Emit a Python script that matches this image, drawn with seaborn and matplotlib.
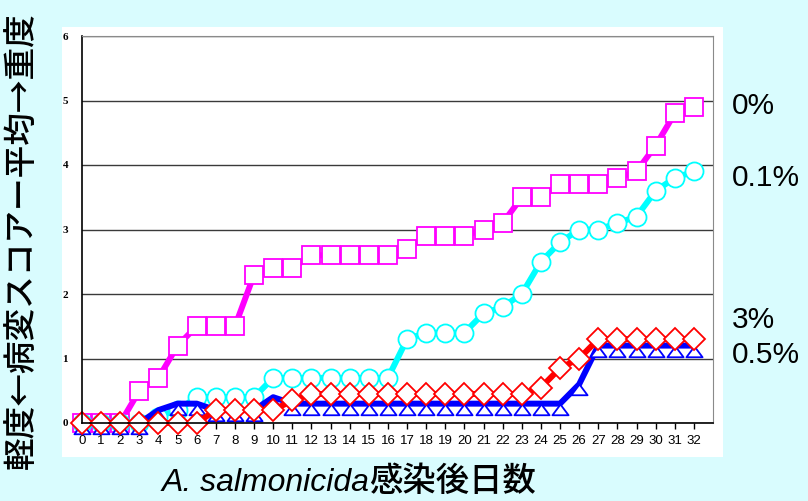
import numpy as np
import pandas as pd
import matplotlib
matplotlib.use("Agg")
import matplotlib.pyplot as plt
import seaborn as sns
from matplotlib.patches import Rectangle

BG_COLOR = "#d9fcfe"

days = list(range(33))
score_0 = [0, 0, 0, 0.5, 0.7, 1.2, 1.5, 1.5, 1.5, 2.3, 2.4, 2.4, 2.6, 2.6, 2.6, 2.6, 2.6,
           2.7, 2.9, 2.9, 2.9, 3.0, 3.1, 3.5, 3.5, 3.7, 3.7, 3.7, 3.8, 3.9, 4.3, 4.8, 4.9]
score_01 = [0, 0, 0, 0, 0.1, 0.2, 0.4, 0.4, 0.4, 0.4, 0.7, 0.7, 0.7, 0.7, 0.7, 0.7, 0.7,
            1.3, 1.4, 1.4, 1.4, 1.7, 1.8, 2.0, 2.5, 2.8, 3.0, 3.0, 3.1, 3.2, 3.6, 3.8, 3.9]
score_05 = [0, 0, 0, 0, 0.2, 0.3, 0.3, 0.2, 0.2, 0.2, 0.4] + [0.3] * 15 + [0.6] + [1.2] * 6
score_3 = [0] * 7 + [0.2, 0.2, 0.2, 0.2, 0.35] + [0.45] * 12 + [0.55, 0.85, 1.0] + [1.3] * 6

labels = ["0%", "0.1%", "0.5%", "3%"]
label_y = [4.92, 3.8, 1.05, 1.6]   # where the right-hand labels sit (data units)
colors = ["#ff00ff", "#00ffff", "#0000ff", "#ff0000"]
# triangle hangs from its apex, like the original spreadsheet chart
tri = [(0, 0), (-0.75, -1), (0.75, -1), (0, 0)]
markers = ["s", "o", tri, "D"]
msizes = [13, 13, 15.5, 11]

df = pd.DataFrame({
    "day": days * 4,
    "score": score_0 + score_01 + score_05 + score_3,
    "group": [g for g in labels for _ in days],
})

sns.set_style("white")
plt.rcParams["font.family"] = ["Liberation Sans", "DejaVu Sans"]
plt.rcParams["text.color"] = "black"
plt.rcParams["xtick.color"] = "black"
plt.rcParams["ytick.color"] = "black"

fig = plt.figure(figsize=(8.08, 5.01), dpi=100, facecolor=BG_COLOR)
fig.patches.append(Rectangle((62 / 808, 44 / 501), 661 / 808, 430 / 501,
                             transform=fig.transFigure, facecolor="white",
                             edgecolor="none", zorder=-10))
ax = fig.add_axes([82 / 808, 78 / 501, 631 / 808, 387 / 501])
ax.set_zorder(1)
ax.set_facecolor("white")

for grp, col, mk, ms in zip(labels, colors, markers, msizes):
    sub = df[df["group"] == grp]
    sns.lineplot(data=sub, x="day", y="score", ax=ax, color=col, lw=4.3,
                 marker=mk, markersize=ms, markerfacecolor="white",
                 markeredgecolor=col, markeredgewidth=1.3, clip_on=False,
                 legend=False)

ax.set_xlim(0, 33)
ax.set_ylim(0, 6)
ax.set_xticks(days)
ax.set_yticks(range(7))
ax.grid(axis="y", color="#3a3a3a", lw=1)
ax.grid(axis="x", visible=False)
ax.set_axisbelow(True)
ax.tick_params(axis="x", direction="out", length=4, width=1, color="black",
               labelsize=9.5, pad=5, bottom=True, labelcolor="black")
ax.tick_params(axis="y", length=0, pad=10, labelsize=8, labelcolor="black")
for t in ax.get_yticklabels():
    t.set_fontfamily("Liberation Serif")
    t.set_fontweight("bold")
for side in ["left", "bottom"]:
    ax.spines[side].set_color("black")
    ax.spines[side].set_linewidth(1.2)
ax.spines["right"].set_color("#8a8a8a")
ax.spines["top"].set_color("#8a8a8a")
ax.set_xlabel("")
ax.set_ylabel("")

for lab, yv in zip(labels, label_y):
    ax.text(1.03, yv / 6, lab, transform=ax.transAxes, fontsize=21.5,
            ha="left", va="center", family="Liberation Sans", color="black")

cjk = ["Noto Sans CJK JP", "DejaVu Sans"]
fig.text(22 / 808, 0.52, "軽度←病変スコアー平均→重度", rotation=90,
         ha="center", va="center", fontsize=23.5, family=cjk, color="black",
         fontweight="medium")
fig.text(369 / 808, 10 / 501, "A. salmonicida", ha="right", va="baseline",
         fontsize=23, style="italic", family="Liberation Sans", color="black")
fig.text(369 / 808, 10 / 501, "感染後日数", ha="left", va="baseline",
         fontsize=24, family=cjk, color="black", fontweight="medium")

fig.savefig("out.png", dpi=100, facecolor=BG_COLOR)
